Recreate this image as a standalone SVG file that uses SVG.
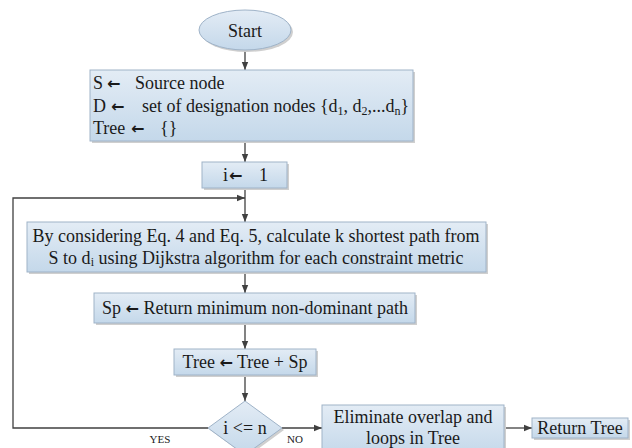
<svg xmlns="http://www.w3.org/2000/svg" width="632" height="448" viewBox="0 0 632 448">
<style>
  .box { fill: url(#g); stroke: #9fb3c8; stroke-width: 1; }
  .sh { fill: #cfcfcf; }
  .t { font-family: "Liberation Serif", "DejaVu Serif", serif; font-size: 18px; fill: #1a1a1a; }
  .c { text-anchor: middle; }
  .ar { font-family: "DejaVu Sans", sans-serif; font-weight: bold; font-size: 16px; }
  .sub { font-size: 12px; }
  .lbl { font-family: "Liberation Serif", "DejaVu Serif", serif; font-size: 11px; fill: #1a1a1a; text-anchor: middle; }
  .ln { fill: none; stroke: #404040; stroke-width: 1.3; }
</style>
<defs>
  <linearGradient id="g" x1="0" y1="0" x2="0" y2="1">
    <stop offset="0" stop-color="#e3ecf5"/>
    <stop offset="1" stop-color="#c4d8ea"/>
  </linearGradient>
  <marker id="a" markerWidth="8" markerHeight="8" refX="8" refY="4" orient="auto" markerUnits="userSpaceOnUse">
    <path d="M0,0.8 L8,4 L0,7.2 Z" fill="#404040"/>
  </marker>
</defs>
<rect width="632" height="448" fill="#ffffff"/>

<g id="connectors">
  <path class="ln" d="M245,51 V70" marker-end="url(#a)"/>
  <path class="ln" d="M245,141 V162" marker-end="url(#a)"/>
  <path class="ln" d="M245,188 V222" marker-end="url(#a)"/>
  <path class="ln" d="M245,272 V293" marker-end="url(#a)"/>
  <path class="ln" d="M245,323 V349" marker-end="url(#a)"/>
  <path class="ln" d="M245,375 V401" marker-end="url(#a)"/>
  <path class="ln" d="M208,428 H13 V198 H245" marker-end="url(#a)"/>
  <path class="ln" d="M282,428 H322" marker-end="url(#a)"/>
  <path class="ln" d="M504,428 H532" marker-end="url(#a)"/>
</g>

<g id="start">
  <ellipse class="sh" cx="247" cy="32" rx="46" ry="20"/>
  <ellipse class="box" cx="245" cy="30" rx="46" ry="20"/>
  <text class="t c" x="245" y="36.5">Start</text>
</g>

<g id="init">
  <rect class="sh" x="92" y="72" width="323" height="71"/>
  <rect class="box" x="90" y="70" width="323" height="71"/>
  <text class="t" y="89"><tspan x="93">S</tspan><tspan class="ar" x="107">←</tspan><tspan x="135">Source node</tspan></text>
  <text class="t" y="111.5"><tspan x="93">D</tspan><tspan class="ar" x="111">←</tspan><tspan x="142">set of designation nodes {d</tspan><tspan class="sub" dy="3">1</tspan><tspan dy="-3">, d</tspan><tspan class="sub" dy="3">2</tspan><tspan dy="-3">,...d</tspan><tspan class="sub" dy="3">n</tspan><tspan dy="-3">}</tspan></text>
  <text class="t" y="134"><tspan x="93">Tree</tspan><tspan class="ar" x="131">←</tspan><tspan x="160">{}</tspan></text>
</g>

<g id="i-init">
  <rect class="sh" x="204" y="164" width="85" height="26"/>
  <rect class="box" x="202" y="162" width="85" height="26"/>
  <text class="t" y="181"><tspan x="223">i</tspan><tspan class="ar" x="229">←</tspan><tspan x="259">1</tspan></text>
</g>

<g id="ksp">
  <rect class="sh" x="29" y="224" width="459" height="50"/>
  <rect class="box" x="27" y="222" width="459" height="50"/>
  <text class="t c" x="256" y="242">By considering Eq. 4 and Eq. 5,  calculate k shortest path from</text>
  <text class="t c" x="256" y="264">S to d<tspan class="sub" dy="2">i</tspan><tspan dy="-2"> using Dijkstra algorithm for each constraint metric</tspan></text>
</g>

<g id="sp">
  <rect class="sh" x="96" y="295" width="321" height="30"/>
  <rect class="box" x="94" y="293" width="321" height="30"/>
  <text class="t c" x="255" y="314">Sp <tspan class="ar">←</tspan>  Return minimum non-dominant path</text>
</g>

<g id="tree">
  <rect class="sh" x="176" y="351" width="142" height="26"/>
  <rect class="box" x="174" y="349" width="142" height="26"/>
  <text class="t c" x="245" y="368">Tree <tspan class="ar">←</tspan> Tree + Sp</text>
</g>

<g id="decision">
  <path class="sh" d="M247,403 L284,430 L247,457 L210,430 Z"/>
  <path class="box" d="M245,401 L282,428 L245,455 L208,428 Z"/>
  <text class="t c" x="245" y="434">i &lt;= n</text>
  <text class="lbl" x="160" y="443">YES</text>
  <text class="lbl" x="295" y="443">NO</text>
</g>

<g id="eliminate">
  <rect class="sh" x="324" y="407" width="182" height="50"/>
  <rect class="box" x="322" y="405" width="182" height="50"/>
  <text class="t c" x="413" y="423">Eliminate overlap and</text>
  <text class="t c" x="413" y="444">loops in Tree</text>
</g>

<g id="return">
  <rect class="sh" x="534" y="420" width="96" height="20"/>
  <rect class="box" x="532" y="418" width="96" height="20"/>
  <text class="t c" x="580" y="434">Return Tree</text>
</g>
</svg>
